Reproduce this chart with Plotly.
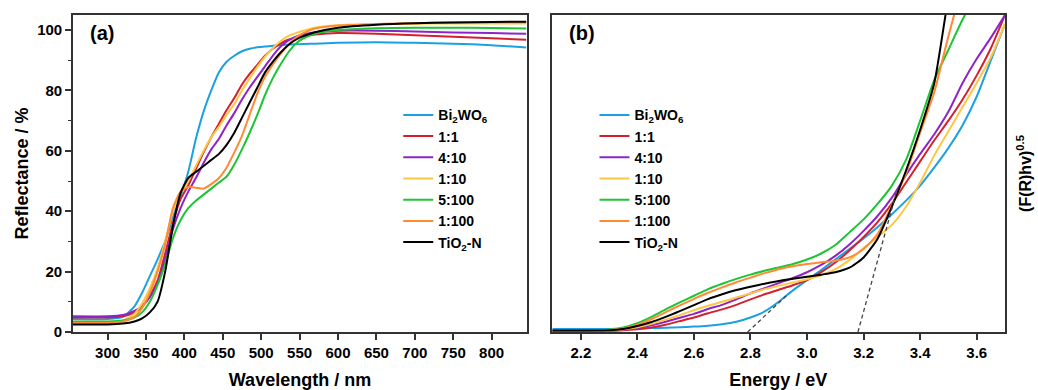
import plotly.graph_objects as go

# ---------------- Panel (a): reflectance spectra ----------------
wavelength = [255, 300, 320, 335, 345, 355, 365, 375, 385, 395, 405, 415, 425, 435, 445,
              455, 465, 475, 485, 495, 505, 515, 525, 535, 545, 555, 570, 600, 650, 700,
              750, 800, 845]

refl_bi2wo6 = [4.3, 4.3, 5.0, 8.5, 13, 18.5, 24, 30, 38, 45, 53, 64, 73, 80, 86,
               89.5, 91.5, 93, 93.8, 94.3, 94.6, 94.8, 95, 95.2, 95.3, 95.4, 95.5, 95.8, 96, 95.8,
               95.5, 95, 94.2]
refl_1_1 = [4.8, 4.8, 5.2, 6.5, 8.5, 12, 17, 26, 36, 44, 48.5, 54, 59.5, 64.5, 69,
            73.5, 77.5, 82, 85.5, 88.5, 91.5, 93.8, 95.5, 96.8, 97.5, 98, 98.5, 99, 98.8, 98.3,
            97.8, 97.3, 96.8]
refl_4_10 = [5.2, 5.2, 5.6, 7, 8.5, 11.5, 16, 24, 34, 41, 46.5, 51, 56, 60.5, 64,
             68.5, 72.5, 77, 81, 84.5, 88, 91.5, 94.5, 96.5, 97.8, 98.6, 99.3, 99.8, 99.8, 99.5,
             99.2, 99, 98.8]
refl_1_10 = [3.2, 3.2, 3.8, 6, 9.5, 14.5, 21, 30, 40, 46, 50, 55, 60, 64.5, 68,
             72, 75.5, 80, 84, 87.8, 91.2, 94, 96.3, 98, 99, 99.8, 100.8, 101.6, 102, 102.1,
             102.2, 102.2, 102.2]
refl_5_100 = [3.5, 3.5, 3.8, 4.8, 6.5, 10, 15.5, 22.5, 31, 37, 41, 43.5, 45.5, 47.5, 49.5,
              51.5, 55.5, 60.5, 66, 72, 78.5, 84, 88.5, 92.5, 95.5, 97.3, 98.8, 100, 100.6, 100.8,
              100.8, 100.7, 100.5]
refl_1_100 = [3.0, 3.0, 3.5, 5, 8, 13, 20, 29, 41, 46.5, 48, 47.8, 47.5, 49, 51,
              54.5, 59.5, 65, 72, 79, 84.5, 88.5, 92, 95, 97.5, 99, 100.5, 101.5, 102, 102.3,
              102.5, 102.6, 102.6]
refl_tio2n = [2.5, 2.5, 2.8, 3.5, 4.5, 6.5, 10, 20, 35, 46, 51, 53, 55, 57, 59,
              62, 66, 71, 76, 81, 86, 89.5, 92.5, 95, 96.8, 98, 99.3, 100.8, 101.8, 102.3,
              102.5, 102.7, 102.8]

# ---------------- Panel (b): Tauc plot (arbitrary units) ----------------
energy = [2.10, 2.20, 2.30, 2.35, 2.40, 2.45, 2.50, 2.55, 2.60, 2.65, 2.70, 2.75, 2.80,
          2.85, 2.90, 2.95, 3.00, 3.05, 3.10, 3.15, 3.20, 3.25, 3.30, 3.35, 3.40, 3.45,
          3.50, 3.55, 3.60, 3.65, 3.70]

tauc_bi2wo6 = [1.0, 1.0, 1.0, 1.1, 1.2, 1.3, 1.4, 1.6, 1.8, 2.1, 2.6, 3.4, 4.8,
               6.8, 10, 13.8, 17.2, 20.5, 24, 27.5, 31, 34.8, 39, 43.5, 48.5, 54.5,
               61, 68.5, 78, 90, 102]
tauc_1_1 = [0.2, 0.1, 0.3, 0.6, 0.9, 1.5, 2.4, 3.6, 4.8, 6.2, 7.5, 9, 10.8,
            12.5, 14, 15.5, 17.2, 19.8, 23, 27, 31.5, 36.5, 42.5, 49.5, 56.5, 63.5,
            70, 77, 85, 94, 105]
tauc_4_10 = [0.4, 0.3, 0.5, 0.8, 1.3, 2.2, 3.4, 4.7, 6, 7.6, 9, 10.8, 12.8,
             14.5, 16.2, 17.9, 19.8, 22.2, 25.2, 29, 33.5, 38.5, 44.5, 52, 59, 65.5,
             73, 82.5, 90.5, 97.5, 105]
tauc_1_10 = [0.3, 0.3, 0.5, 0.9, 1.6, 2.7, 4.1, 5.6, 7.2, 8.7, 10, 11.4, 12.8,
             14.2, 15.3, 16.4, 17.5, 18.8, 20.8, 23.8, 27.8, 31.5, 35.5, 41.5, 49.5, 58.5,
             66.5, 74.5, 82.5, 91, 102]
tauc_5_100 = [0.3, 0.3, 0.8, 1.5, 2.9, 5, 7.5, 9.8, 12, 14.2, 16, 17.6, 19,
              20.3, 21.4, 22.5, 24, 26, 28.8, 33, 37.3, 42.5, 48.5, 57, 70, 83.5,
              93.5, 103.5, 112, 120, 128]
tauc_1_100 = [0.5, 0.5, 0.7, 1.2, 2.4, 4.3, 6.6, 8.8, 11, 13, 14.8, 16.5, 18,
              19.5, 20.8, 21.8, 22.5, 23.1, 23.6, 24.7, 27.5, 32.5, 42, 52.5, 66, 79.5,
              98, 115, 130, 145, 160]
tauc_tio2n = [0.5, 0.5, 0.6, 1.0, 2.0, 3.3, 5.0, 6.9, 8.9, 10.9, 12.5, 13.9, 15.0,
              16.0, 16.9, 17.6, 18.3, 19.0, 19.8, 21.3, 24.7, 31, 41.5, 53.5, 67, 82.5,
              111, 135, 160, 185, 210]

# tangent (band-gap extrapolation) lines
tangent1_e = [2.79, 2.93]
tangent1_v = [0, 12.3]
tangent2_e = [3.18, 3.315]
tangent2_v = [0, 46]

names = ["Bi<sub>2</sub>WO<sub>6</sub>", "1:1", "4:10", "1:10", "5:100", "1:100", "TiO<sub>2</sub>-N"]
colors = ["#1BA1E2", "#D3202F", "#8E24C8", "#FDC743", "#1DC434", "#FF8A33", "#000000"]
refl_series = [refl_bi2wo6, refl_1_1, refl_4_10, refl_1_10, refl_5_100, refl_1_100, refl_tio2n]
tauc_series = [tauc_bi2wo6, tauc_1_1, tauc_4_10, tauc_1_10, tauc_5_100, tauc_1_100, tauc_tio2n]

FONT = "Liberation Sans"
AX = "#333333"

fig = go.Figure()

for n, c, v in zip(names, colors, refl_series):
    fig.add_trace(go.Scatter(x=wavelength, y=v, name=n, mode="lines",
                             line=dict(color=c, width=2, shape="spline", smoothing=0.6),
                             xaxis="x", yaxis="y", legend="legend"))

for n, c, v in zip(names, colors, tauc_series):
    fig.add_trace(go.Scatter(x=energy, y=v, name=n, mode="lines",
                             line=dict(color=c, width=2, shape="spline", smoothing=0.6),
                             xaxis="x2", yaxis="y2", legend="legend2"))

for te, tv in [(tangent1_e, tangent1_v), (tangent2_e, tangent2_v)]:
    fig.add_trace(go.Scatter(x=te, y=tv, mode="lines", showlegend=False,
                             line=dict(color="#444444", width=1.3, dash="4px,3px"),
                             xaxis="x2", yaxis="y2"))

tickfont = dict(family=FONT, size=15, color="black", weight="bold")
titlefont = dict(family=FONT, size=18, color="black", weight="bold")

common = dict(showline=True, mirror=True, linecolor=AX, linewidth=1.6,
              ticks="outside", tickcolor=AX, tickwidth=1.5, ticklen=6,
              showgrid=False, zeroline=False, tickfont=tickfont, automargin=False)

fig.update_layout(
    width=1038, height=390, autosize=False,
    margin=dict(l=73, r=33, t=15, b=58),
    paper_bgcolor="white", plot_bgcolor="white",
    font=dict(family=FONT, color="black"),
    xaxis=dict(domain=[0, 0.4871], range=[255, 846], tickvals=list(range(300, 801, 50)),
               title=dict(text="Wavelength / nm", font=titlefont, standoff=14), anchor="y",
               **common),
    yaxis=dict(domain=[0, 1], range=[0, 105], tickvals=[0, 20, 40, 60, 80, 100],
               minor=dict(ticks="outside", dtick=10, tick0=0, ticklen=3.5, tickcolor=AX, tickwidth=1.2),
               title=dict(text="Reflectance / %", font=titlefont, standoff=4), anchor="x",
               **common),
    xaxis2=dict(domain=[0.5136, 1], range=[2.097, 3.7], tickvals=[2.2, 2.4, 2.6, 2.8, 3.0, 3.2, 3.4, 3.6],
                tickformat=".1f", anchor="y2",
                title=dict(text="Energy / eV", font=titlefont, standoff=14), **common),
    yaxis2=dict(domain=[0, 1], range=[0, 105], anchor="x2", side="right",
                showline=True, mirror=True, linecolor=AX, linewidth=1.6, automargin=False,
                ticks="", showticklabels=False, showgrid=False, zeroline=False,
                title=dict(text="(F(R)hv)<sup>0.5</sup>", font=dict(family=FONT, size=16, color="black", weight="bold"), standoff=14)),
    legend=dict(x=0.349, y=0.734, xanchor="left", yanchor="top", bgcolor="rgba(0,0,0,0)",
                font=dict(family=FONT, size=14, color="black", weight="bold"), tracegroupgap=0),
    legend2=dict(x=0.5595, y=0.734, xanchor="left", yanchor="top", bgcolor="rgba(0,0,0,0)",
                 font=dict(family=FONT, size=14, color="black", weight="bold"), tracegroupgap=0),
    annotations=[
        dict(text="(a)", xref="x domain", yref="y domain", x=0.033, y=0.943, xanchor="left", yanchor="middle",
             showarrow=False, font=dict(family=FONT, size=20, color="black", weight="bold")),
        dict(text="(b)", xref="x2 domain", yref="y2 domain", x=0.034, y=0.943, xanchor="left", yanchor="middle",
             showarrow=False, font=dict(family=FONT, size=20, color="black", weight="bold")),
    ],
)

fig.write_html("out.html")
